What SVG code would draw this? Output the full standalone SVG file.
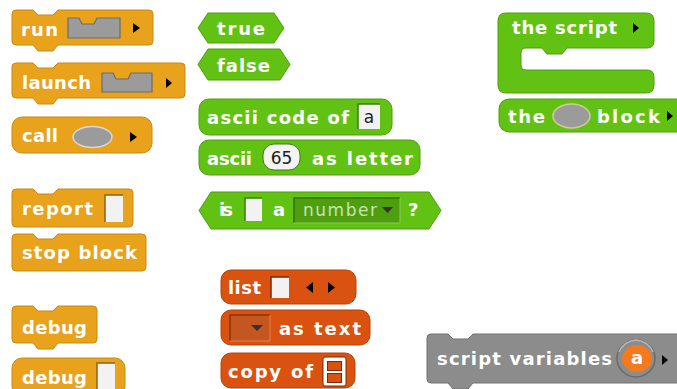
<svg xmlns="http://www.w3.org/2000/svg" width="677" height="389" viewBox="0 0 677 389">
<style>
.ctl{fill:#E8A21C;stroke:#C98A10;stroke-width:1}
.op{fill:#62C213;stroke:#4E9E0E;stroke-width:1}
.lst{fill:#D9520F;stroke:#B4420A;stroke-width:1}
.oth{fill:#8C8C8C;stroke:#707070;stroke-width:1}
.t{font-family:"DejaVu Sans",Verdana,sans-serif;font-weight:bold;font-size:18px;fill:#fff}
.d{font-family:"DejaVu Sans",Verdana,sans-serif;font-size:17px;fill:#222}
.arr{fill:#000}
.in{fill:#F2F2F2}
.cslot{fill:#9B9B9B;stroke:#6C6C6C;stroke-width:1.2}
</style>
<rect width="677" height="389" fill="#fff"/>

<g id="run">
<path class="ctl" d="M16,10 H33 L38,15 H53 L58,10 H149 Q153,10 153,14 V41 Q153,45 149,45 H58 L53,51 H38 L33,45 H16 Q12,45 12,41 V14 Q12,10 16,10 Z"/>
<text class="t" x="21" y="36" textLength="37" lengthAdjust="spacing">run</text>
<path class="cslot" d="M68,18 H79 L82,24 H94 L97,18 H120 V38 H68 Z"/>
<polygon class="arr" points="133,23 140,28 133,33"/>
</g>

<g id="launch">
<path class="ctl" d="M16,63 H33 L38,68 H53 L58,63 H181 Q185,63 185,67 V94 Q185,98 181,98 H58 L53,104 H38 L33,98 H16 Q12,98 12,94 V67 Q12,63 16,63 Z"/>
<text class="t" x="22" y="89" textLength="69" lengthAdjust="spacing">launch</text>
<path class="cslot" d="M102,73 H113 L116,79 H128 L131,73 H152 V92 H102 Z"/>
<polygon class="arr" points="166,78 172,83 166,88"/>
</g>

<g id="call">
<rect class="ctl" x="12" y="117" width="140" height="36" rx="10"/>
<text class="t" x="22" y="142" textLength="36" lengthAdjust="spacing">call</text>
<ellipse cx="92.5" cy="137" rx="19.5" ry="10.5" fill="#9B9B9B" stroke="#D8D8D8" stroke-width="1.5"/>
<polygon class="arr" points="130,132 137,137 130,142"/>
</g>

<g id="report">
<path class="ctl" d="M16,189 H33 L38,194 H53 L58,189 H129 Q133,189 133,193 V223 Q133,227 129,227 H16 Q12,227 12,223 V193 Q12,189 16,189 Z"/>
<text class="t" x="22" y="215" textLength="71" lengthAdjust="spacing">report</text>
<rect class="in" x="105" y="195" width="18" height="27"/>
<path d="M105,222 V195 H123" fill="none" stroke="#8A6410" stroke-width="1.5"/>
</g>

<g id="stop-block">
<path class="ctl" d="M16,234 H33 L38,239 H53 L58,234 H142 Q146,234 146,238 V267 Q146,271 142,271 H16 Q12,271 12,267 V238 Q12,234 16,234 Z"/>
<text class="t" x="22" y="259" textLength="115" lengthAdjust="spacing">stop block</text>
</g>

<g id="debug-cmd">
<path class="ctl" d="M16,306 H33 L38,311 H53 L58,306 H93 Q97,306 97,310 V339 Q97,343 93,343 H58 L53,349 H38 L33,343 H16 Q12,343 12,339 V310 Q12,306 16,306 Z"/>
<text class="t" x="22" y="334" textLength="65" lengthAdjust="spacing">debug</text>
</g>

<g id="debug-rep">
<rect class="ctl" x="12" y="358" width="113" height="38" rx="10"/>
<text class="t" x="22" y="384" textLength="65" lengthAdjust="spacing">debug</text>
<rect class="in" x="97" y="363" width="18" height="30"/>
<path d="M97,393 V363 H115" fill="none" stroke="#8A6410" stroke-width="1.5"/>
</g>

<g id="true">
<polygon class="op" points="198,28 208,13 274,13 284,28 274,43 208,43"/>
<text class="t" x="217" y="35" textLength="48" lengthAdjust="spacing">true</text>
</g>

<g id="false">
<polygon class="op" points="198,64.5 208,49 280,49 290,64.5 280,80 208,80"/>
<text class="t" x="217" y="72" textLength="53" lengthAdjust="spacing">false</text>
</g>

<g id="ascii-code">
<rect class="op" x="199" y="99" width="193" height="36" rx="10"/>
<text class="t" x="207" y="124" textLength="142" lengthAdjust="spacing">ascii code of</text>
<rect class="in" x="358" y="104" width="22" height="25"/>
<path d="M358,129 V104 H380" fill="none" stroke="#3E7A0C" stroke-width="1.5"/>
<text class="d" x="369" y="123" text-anchor="middle">a</text>
</g>

<g id="ascii-letter">
<rect class="op" x="199" y="140" width="221" height="35" rx="10"/>
<text class="t" x="207" y="165" textLength="45" lengthAdjust="spacing">ascii</text>
<rect x="263" y="144" width="37" height="26" rx="11" fill="#F4F4F4" stroke="#3E7A0C" stroke-width="1"/>
<text class="d" x="281.5" y="164" text-anchor="middle">65</text>
<text class="t" x="312" y="165" textLength="101" lengthAdjust="spacing">as letter</text>
</g>

<g id="is-a">
<polygon class="op" points="199,210.5 211,192 429,192 441,210.5 429,229 211,229"/>
<text class="t" x="219" y="216" textLength="14" lengthAdjust="spacing">is</text>
<rect class="in" x="245" y="198" width="17" height="23"/>
<path d="M245,221 V198 H262" fill="none" stroke="#3E7A0C" stroke-width="1.5"/>
<text class="t" x="273" y="216">a</text>
<rect x="294" y="198" width="106" height="25" fill="#4E9E10"/>
<path d="M294,223 V198 H400" fill="none" stroke="#357008" stroke-width="1.5"/>
<path d="M294,223 H400 V198" fill="none" stroke="#86CC50" stroke-width="1"/>
<text x="303" y="216" font-family="DejaVu Sans,Verdana,sans-serif" font-size="17" fill="#C9E3B4" textLength="74" lengthAdjust="spacing">number</text>
<polygon points="382,207 393,207 387.5,213" fill="#333"/>
<text class="t" x="408" y="216">?</text>
</g>

<g id="the-script">
<path class="op" d="M506,13 H646 Q654,13 654,21 V41 Q654,48 647,48 H567 L562,54 H547 L542,48 H526 Q521,48 521,53 V65 Q521,70 526,70 H647 Q654,70 654,77 V85 Q654,93 646,93 H506 Q498,93 498,85 V21 Q498,13 506,13 Z"/>
<text class="t" x="512" y="34" textLength="105" lengthAdjust="spacing">the script</text>
<polygon class="arr" points="633,23 639,28 633,33"/>
</g>

<g id="the-block">
<rect class="op" x="499" y="99" width="195" height="33" rx="10"/>
<text class="t" x="508" y="123" textLength="37" lengthAdjust="spacing">the</text>
<ellipse cx="571.5" cy="116" rx="18.5" ry="12" fill="#9B9B9B" stroke="#D8C89A" stroke-width="1.5"/>
<text class="t" x="597" y="123" textLength="63" lengthAdjust="spacing">block</text>
<polygon class="arr" points="667,111 673,116 667,121"/>
</g>

<g id="list">
<rect class="lst" x="221" y="270" width="135" height="34" rx="10"/>
<text class="t" x="228" y="294" textLength="33" lengthAdjust="spacing">list</text>
<rect class="in" x="271" y="277" width="18" height="21"/>
<path d="M271,298 V277 H289" fill="none" stroke="#7A2A04" stroke-width="1.5"/>
<polygon class="arr" points="313,282 306,287.5 313,293"/>
<polygon class="arr" points="328,282 335,287.5 328,293"/>
</g>

<g id="as-text">
<rect class="lst" x="221" y="310" width="149" height="35" rx="10"/>
<rect x="230" y="315" width="40" height="26" fill="#C4561F"/>
<path d="M230,341 V315 H270" fill="none" stroke="#8A3208" stroke-width="1.5"/>
<path d="M230,341 H270 V315" fill="none" stroke="#E8804A" stroke-width="1"/>
<polygon points="251,325 263,325 257,331" fill="#333"/>
<text class="t" x="279" y="335" textLength="82" lengthAdjust="spacing">as text</text>
</g>

<g id="copy-of">
<rect class="lst" x="221" y="353" width="134" height="35" rx="10"/>
<text class="t" x="228" y="378" textLength="85" lengthAdjust="spacing">copy of</text>
<rect x="323" y="357" width="23" height="29" rx="2" fill="#fff" stroke="#7A2A04" stroke-width="1"/>
<rect x="327.5" y="361.5" width="14" height="9" fill="#D9520F" stroke="#7A2A04" stroke-width="1"/>
<rect x="327.5" y="373.5" width="14" height="9" fill="#D9520F" stroke="#7A2A04" stroke-width="1"/>
</g>

<g id="script-variables">
<path class="oth" d="M431,334 H448 L453,339 H468 L473,334 H690 V383 H473 L468,389 H453 L448,383 H431 Q427,383 427,379 V338 Q427,334 431,334 Z"/>
<text class="t" x="437" y="365" textLength="175" lengthAdjust="spacing">script variables</text>
<ellipse cx="636" cy="358.5" rx="19" ry="18.5" fill="#8C8C8C" stroke="#6A6A6A" stroke-width="1.5"/>
<path d="M619,352 Q624,341 636,340 Q648,341 653,352" fill="none" stroke="#B8B8B8" stroke-width="1.5"/>
<ellipse cx="637" cy="358.5" rx="15" ry="13.5" fill="#F37A1D"/>
<text class="t" x="637" y="364" text-anchor="middle">a</text>
<polygon class="arr" points="662,355 668,360 662,365"/>
</g>
</svg>
